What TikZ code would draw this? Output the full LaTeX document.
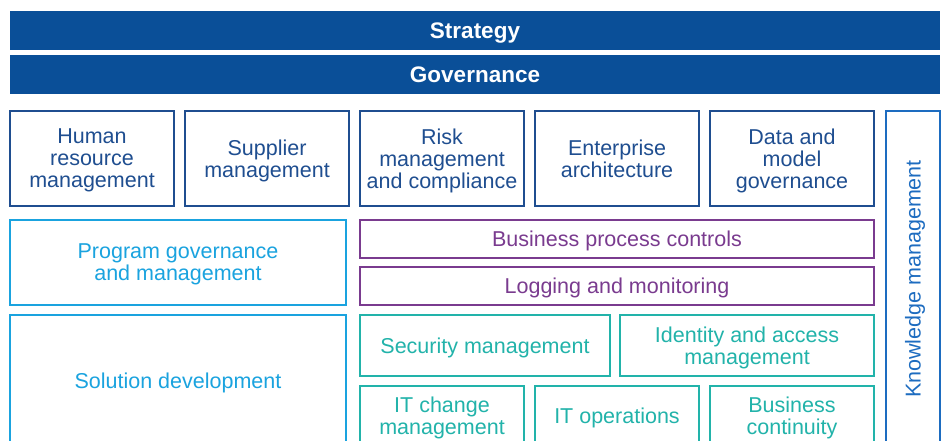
\documentclass[tikz,border=0pt]{standalone}
\usepackage{fontspec}
\setmainfont{Liberation Sans}
\definecolor{kdark}{HTML}{0A4F98}
\definecolor{krow}{HTML}{1F4E90}
\definecolor{klight}{HTML}{1AA3DF}
\definecolor{kpurple}{HTML}{7A3B8F}
\definecolor{kteal}{HTML}{22B3AA}
\definecolor{kmed}{HTML}{1D6CC0}
\begin{document}
\begin{tikzpicture}[x=1pt,y=-1pt,
  every node/.style={inner sep=0pt, outer sep=0pt, anchor=north west, align=center,
    font=\fontsize{21.5}{22}\selectfont, text depth=0.5pt},
  bar/.style={fill=kdark, text=white, font=\fontsize{22.5}{23}\selectfont\bfseries},
  rowbox/.style={draw=krow, line width=1.5pt, text=krow},
  lightbox/.style={draw=klight, line width=1.5pt, text=klight},
  purplebox/.style={draw=kpurple, line width=1.5pt, text=kpurple},
  tealbox/.style={draw=kteal, line width=1.5pt, text=kteal},
  medbox/.style={draw=kmed, line width=1.5pt, text=kmed},
]
\clip (0,0) rectangle (942,440);
\fill[white] (0,0) rectangle (942,440);
% bars
\node[bar, minimum width=930, minimum height=39] (strategy) at (10,11) {Strategy};
\node[bar, minimum width=930, minimum height=39] (governance) at (10,55) {Governance};
% row 1
\node[rowbox, minimum width=164, minimum height=95] (hr) at (10,111) {Human\\resource\\management};
\node[rowbox, minimum width=164, minimum height=95] (sup) at (185,111) {Supplier\\management};
\node[rowbox, minimum width=164, minimum height=95] (risk) at (360,111) {Risk\\management\\and compliance};
\node[rowbox, minimum width=164, minimum height=95] (ea) at (535,111) {Enterprise\\architecture};
\node[rowbox, minimum width=164, minimum height=95] (data) at (710,111) {Data and\\model\\governance};
% knowledge management
\node[medbox, minimum width=54, minimum height=340] (km) at (886,111) {};
\node[text=kmed, rotate=90, anchor=center] (kmt) at (913,279) {Knowledge management};
% left column
\node[lightbox, minimum width=336, minimum height=85] (pgm) at (10,220) {Program governance\\and management};
\node[lightbox, minimum width=336, minimum height=131] (sol) at (10,315) {Solution development};
% purple
\node[purplebox, minimum width=514, minimum height=38] (bpc) at (360,220) {Business process controls};
\node[purplebox, minimum width=514, minimum height=38] (log) at (360,267) {Logging and monitoring};
% teal
\node[tealbox, minimum width=250, minimum height=61] (sec) at (360,315) {Security management};
\node[tealbox, minimum width=254, minimum height=61] (iam) at (620,315) {Identity and access\\management};
\node[tealbox, minimum width=164, minimum height=60] (itc) at (360,386) {IT change\\management};
\node[tealbox, minimum width=164, minimum height=60] (ito) at (535,386) {IT operations};
\node[tealbox, minimum width=164, minimum height=60] (bc) at (710,386) {Business\\continuity};
\end{tikzpicture}
\end{document}
